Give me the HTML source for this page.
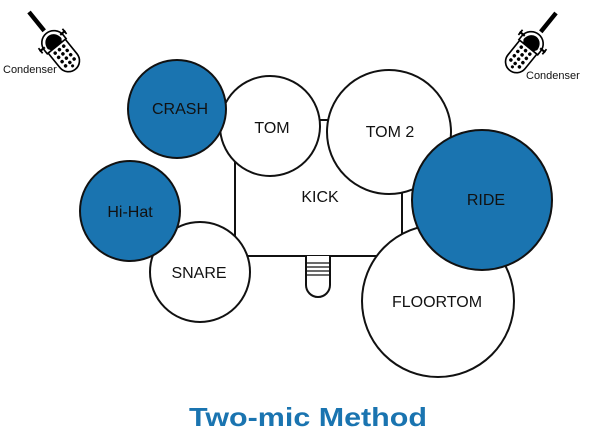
<!DOCTYPE html>
<html><head><meta charset="utf-8"><style>
html,body{margin:0;padding:0;background:#fff;width:613px;height:440px;overflow:hidden}
svg{display:block}
text{font-family:"Liberation Sans",sans-serif}
</style></head><body>
<svg width="613" height="440" viewBox="0 0 613 440" xmlns="http://www.w3.org/2000/svg">
<defs>
<g id="mic">
  <line x1="0" y1="0" x2="0" y2="22" stroke="#000" stroke-width="4"/>
  <rect x="-10" y="30" width="20" height="37" rx="10" fill="#fff" stroke="#000" stroke-width="1.5"/>
  <g fill="#000">
    <circle cx="-5" cy="44" r="1.6"/><circle cx="0" cy="44" r="1.6"/><circle cx="5" cy="44" r="1.6"/>
    <circle cx="-5" cy="49" r="1.6"/><circle cx="0" cy="49" r="1.6"/><circle cx="5" cy="49" r="1.6"/>
    <circle cx="-5" cy="54" r="1.6"/><circle cx="0" cy="54" r="1.6"/><circle cx="5" cy="54" r="1.6"/>
    <circle cx="-5" cy="59" r="1.6"/><circle cx="0" cy="59" r="1.6"/><circle cx="5" cy="59" r="1.6"/>
    <circle cx="0" cy="63" r="1.4"/>
  </g>
  <path d="M-11 36 A11 11 0 0 1 11 36 L11 40 L-11 40 Z" fill="#fff" stroke="#000" stroke-width="1.5"/>
  <path d="M-8 37 A8 9 0 0 1 8 37 L6 40 L-6 40 Z" fill="#000"/>
  <line x1="-15" y1="34" x2="-9" y2="34" stroke="#000" stroke-width="2"/>
  <line x1="9" y1="34" x2="15" y2="34" stroke="#000" stroke-width="2"/>
  <line x1="-14" y1="31" x2="-14" y2="37" stroke="#000" stroke-width="1.5"/>
  <line x1="14" y1="31" x2="14" y2="37" stroke="#000" stroke-width="1.5"/>
</g>
</defs>
<g transform="translate(29,12) rotate(-39) scale(1.1)"><use href="#mic"/></g>
<g transform="translate(556,13) scale(-1,1) rotate(-39) scale(1.1)"><use href="#mic"/></g>
<text x="3" y="73" font-size="11" fill="#111">Condenser</text>
<text x="526" y="79" font-size="11" fill="#111">Condenser</text>

<g stroke="#111" stroke-width="2">
  <rect x="235" y="120" width="167" height="136" fill="#fff"/>
  <path d="M306 256 L306 285 A12 12 0 0 0 330 285 L330 256" fill="#fff"/>
  <g stroke-width="1.3">
    <line x1="306" y1="263" x2="330" y2="263"/>
    <line x1="306" y1="267" x2="330" y2="267"/>
    <line x1="306" y1="271" x2="330" y2="271"/>
    <line x1="306" y1="275" x2="330" y2="275"/>
  </g>
  <circle cx="270" cy="126" r="50" fill="#fff"/>
  <circle cx="389" cy="132" r="62" fill="#fff"/>
  <circle cx="177" cy="109" r="49" fill="#1a74b0"/>
  <circle cx="200" cy="272" r="50" fill="#fff"/>
  <circle cx="130" cy="211" r="50" fill="#1a74b0"/>
  <circle cx="438" cy="301" r="76" fill="#fff"/>
  <circle cx="482" cy="200" r="70" fill="#1a74b0"/>
</g>
<g font-size="16" fill="#111" text-anchor="middle">
  <text x="180" y="114">CRASH</text>
  <text x="272" y="133">TOM</text>
  <text x="390" y="137">TOM 2</text>
  <text x="320" y="202">KICK</text>
  <text x="130" y="217">Hi-Hat</text>
  <text x="199" y="278">SNARE</text>
  <text x="486" y="205">RIDE</text>
  <text x="437" y="307">FLOORTOM</text>
</g>
<text x="189" y="426" font-size="26" font-weight="bold" fill="#1a74b0" textLength="238" lengthAdjust="spacingAndGlyphs">Two-mic Method</text>
</svg>
</body></html>
